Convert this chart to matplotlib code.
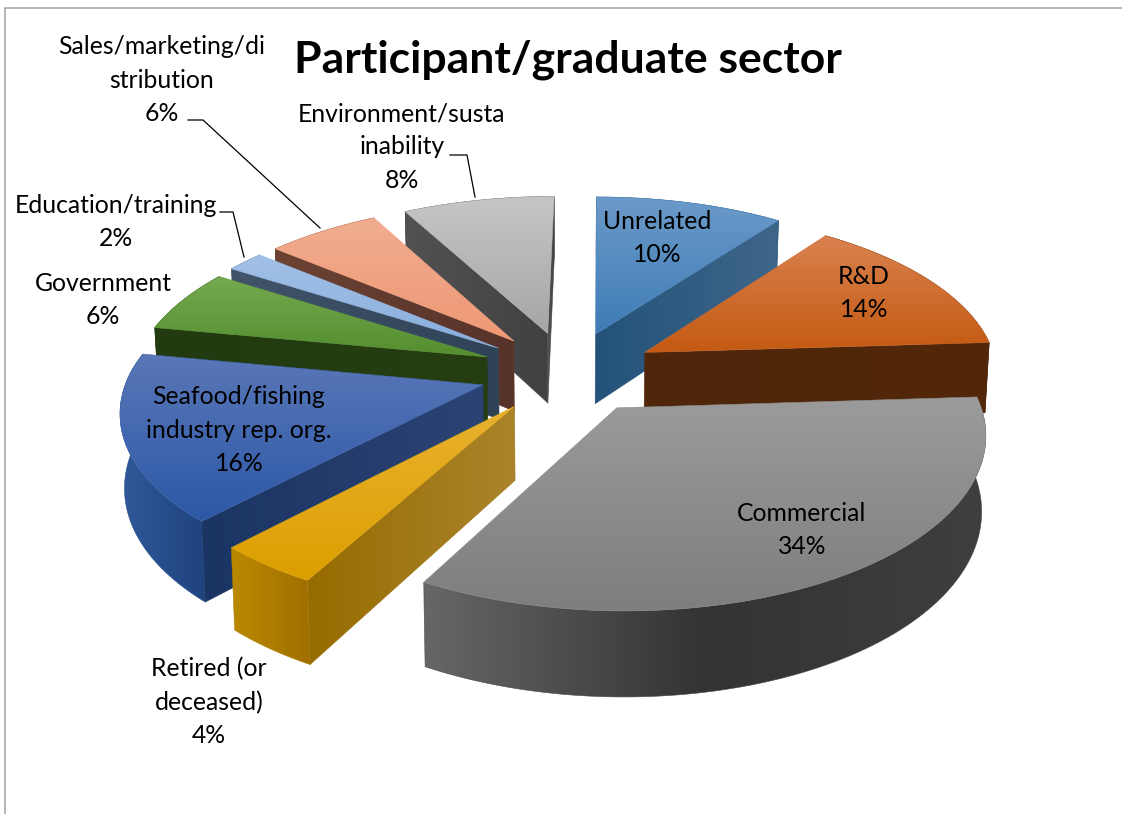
import numpy as np
import matplotlib
matplotlib.use("Agg")
import matplotlib.pyplot as plt
from matplotlib.patches import Polygon
from matplotlib.colors import to_rgb

plt.rcParams['font.family'] = ['Lato', 'DejaVu Sans']

# --- data ---
categories = ["Unrelated", "R&D", "Commercial", "Retired (or\ndeceased)",
              "Seafood/fishing\nindustry rep. org.", "Government",
              "Education/training", "Sales/marketing/di\nstribution",
              "Environment/susta\ninability"]
values = [10, 14, 34, 4, 16, 6, 2, 6, 8]
title = "Participant/graduate sector"

# --- style: (top gradient), (radial wall gradient), (outer wall gradient) ---
top_colors = [("#6b9ac9", "#3f7cb6"), ("#d9824f", "#c45a12"), ("#9b9b9b", "#7e7e7e"),
              ("#e9b230", "#dc9f00"), ("#5a77b8", "#2c58a6"), ("#74aa50", "#548e2e"),
              ("#a2c1e7", "#88aedd"), ("#f1ad90", "#ef9875"), ("#c6c6c6", "#a6a6a6")]
side_colors = [("#24527a", "#3e6689"), ("#4f2609", "#52270a"), ("#555555", "#444444"),
               ("#966c00", "#aa842c"), ("#1a3463", "#2c4475"), ("#213a0f", "#263e12"),
               ("#41546a", "#2f4357"), ("#6c4333", "#57332a"), ("#525252", "#414141")]
outer_colors = [("#2a5a85", "#3e6689"), ("#4f2609", "#52270a"), ("#666666", "#333333", "#3f3f3f"),
                ("#bb8a00", "#a06f00"), ("#30589a", "#1f437e"), ("#213a0f", "#263e12"),
                ("#41546a", "#2f4357"), ("#6c4333", "#57332a"), ("#525252", "#414141")]

label_pos = [(657, 238), (864, 293), (802, 530), (209, 702), (239, 430),
             (103, 300), (116, 222), (162, 80), (402, 147)]
leaders = {6: [(220, 212), (233, 212), (244, 257)],
           7: [(188, 120), (203, 120), (320, 228)],
           8: [(450, 155), (467, 155), (475, 197)]}

# --- projection ---
CX, CY, A, B, K, DEPTH, EXPLODE, TAPER, SKEW = 568, 372, 354, 165, 0.135, 72, 0.25, 0.99, 4


def project(x, y, bottom=False):
    s = 1 / (1 + K * y)
    sx = A * x * s + SKEW * np.maximum(y, 0)
    sy = CY - B * y * s
    if bottom:
        return np.column_stack([CX + sx * TAPER, sy + DEPTH * s])
    return np.column_stack([CX + sx, sy])


fig = plt.figure(figsize=(11.22, 8.14), dpi=100, facecolor="white")
ax = fig.add_axes([0, 0, 1, 1])
z = [2]


def gradient_poly(pts, colors, horizontal):
    rgb = np.array([to_rgb(c) for c in colors])
    n = 64
    t = np.linspace(0, 1, n)
    grid = np.linspace(0, 1, len(rgb))
    ramp = np.column_stack([np.interp(t, grid, rgb[:, i]) for i in range(3)])
    img = ramp[np.newaxis, :, :] if horizontal else ramp[:, np.newaxis, :]
    x0, y0 = pts.min(axis=0)
    x1, y1 = pts.max(axis=0)
    z[0] += 1
    poly = Polygon(pts, closed=True, transform=ax.transData, fc="none", ec="none")
    im = ax.imshow(img, extent=(x0, x1, y1, y0), origin="upper", aspect="auto",
                   interpolation="bilinear", zorder=z[0])
    im.set_clip_path(poly)
    z[0] += 1
    mid = rgb.mean(axis=0)
    ax.add_patch(Polygon(pts, closed=True, fc="none", ec=mid, lw=0.4, zorder=z[0]))


fractions = np.array(values, dtype=float) / sum(values)
edges = np.concatenate([[0], np.cumsum(fractions)]) * 2 * np.pi
mids = (edges[:-1] + edges[1:]) / 2
order = np.argsort(-np.cos(mids))

for i in order:
    th = np.linspace(edges[i], edges[i + 1], max(6, int(values[i] * 6)))
    ex, ey = EXPLODE * np.sin(mids[i]), EXPLODE * np.cos(mids[i])
    ax_x, ax_y = ex + np.sin(th), ey + np.cos(th)
    arc_t = project(ax_x, ax_y)
    arc_b = project(ax_x, ax_y, bottom=True)
    apex_t = project(np.array([ex]), np.array([ey]))
    apex_b = project(np.array([ex]), np.array([ey]), bottom=True)
    top_poly = np.vstack([apex_t, arc_t])
    centre = top_poly.mean(axis=0)

    # outer wall
    gradient_poly(np.vstack([arc_t, arc_b[::-1]]), outer_colors[i], True)

    # radial walls which face the viewer
    for k in (0, -1):
        p, q = apex_t[0], arc_t[k]
        if abs(q[0] - p[0]) < 1e-6:
            continue
        line_y = p[1] + (q[1] - p[1]) * (centre[0] - p[0]) / (q[0] - p[0])
        if centre[1] < line_y:
            wall = np.vstack([apex_t, arc_t[[k]], arc_b[[k]], apex_b])
            gradient_poly(wall, side_colors[i], True)

    # top face
    gradient_poly(top_poly, top_colors[i], False)

# labels
for name, v, (x, y) in zip(categories, values, label_pos):
    ax.text(x, y, f"{name}\n{v}%", ha="center", va="center", fontsize=17.8,
            linespacing=1.53, color="black", zorder=1000)

for pts in leaders.values():
    xs, ys = zip(*pts)
    ax.plot(xs, ys, color="black", lw=0.9, zorder=999)

ax.text(568, 60, title, ha="center", va="center", fontsize=32, fontweight="bold",
        color="black", zorder=1000)

# chart frame
ax.plot([5, 5, 1122], [814, 8, 8], color="#a9a9a9", lw=1.2, zorder=1)

ax.set_xlim(0, 1122)
ax.set_ylim(814, 0)
ax.axis("off")
fig.savefig("out.png", dpi=100)
